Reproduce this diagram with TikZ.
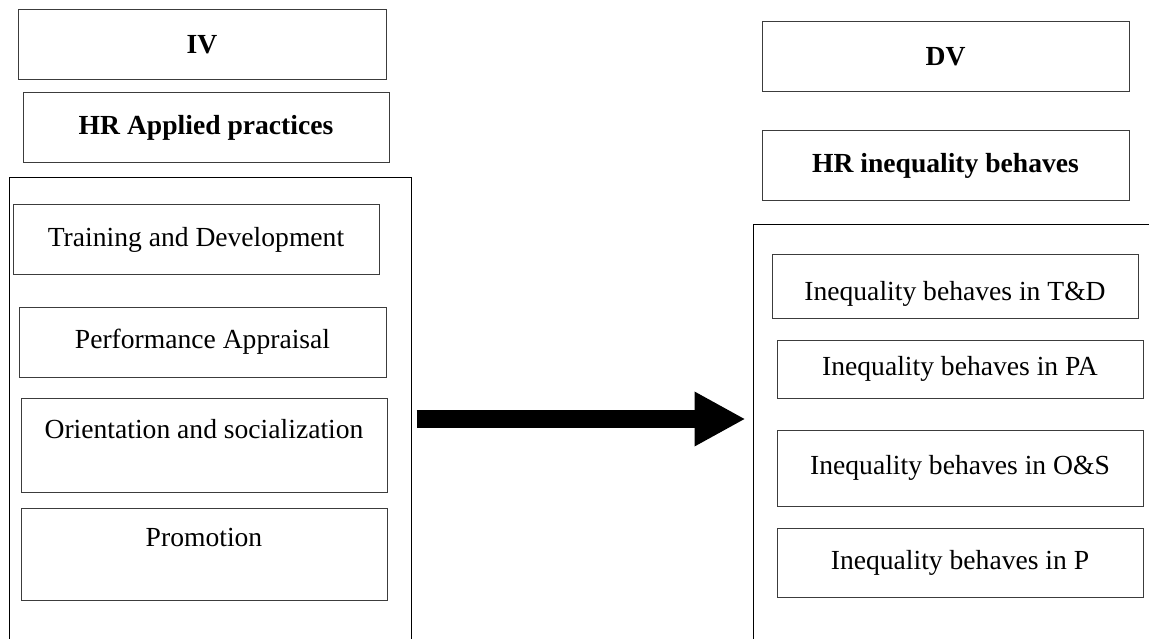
\documentclass[tikz,border=0pt]{standalone}
\usepackage{fontspec}
\setmainfont{Liberation Serif}
\usetikzlibrary{arrows.meta, positioning, calc}
\definecolor{boxline}{RGB}{60, 60, 60}
\tikzset{
  hrbox/.style     = {rectangle, draw=boxline, line width=1pt, inner sep=0pt, align=center, font=\fontsize{27.6}{33}\selectfont},
  hrhead/.style    = {hrbox, font=\fontsize{27.6}{33}\selectfont\bfseries},
  hrframe/.style   = {rectangle, draw=black, line width=1pt, inner sep=0pt},
  fatarrow/.style  = {-{Triangle[length=51pt, width=51pt]}, line width=18pt, black},
}
\begin{document}
\begin{tikzpicture}[x=1pt, y=-1pt]
  \useasboundingbox (0,0) rectangle (1149,639);
  \clip (0,0) rectangle (1149,639);

  % independent side
  \node[hrframe, minimum width=401.5pt, minimum height=482pt] (lcont) at (210.25,419) {};
  \node[hrhead, minimum width=368pt, minimum height=70pt] (iv)   at (202,45)  {IV};
  \node[hrhead, minimum width=366pt, minimum height=70pt] (hrap) at (206,128) {HR Applied practices};
  \node[hrbox, minimum width=366pt, minimum height=70pt] (td)   at (196,240)   {Training and Development};
  \node[hrbox, minimum width=367pt, minimum height=70pt] (pa)   at (202.5,342) {Performance Appraisal};
  \node[hrbox, minimum width=366pt, minimum height=94pt] (os)   at (204,445)   {Orientation and socialization\\~};
  \node[hrbox, minimum width=366pt, minimum height=92pt] (prom) at (204,554)   {Promotion\\~};

  % dependent side
  \node[hrframe, minimum width=412pt, minimum height=435pt] (rcont) at (959,442.5) {};
  \node[hrhead, minimum width=367pt, minimum height=70pt] (dv)   at (945.5,57)  {DV};
  \node[hrhead, minimum width=367pt, minimum height=70pt] (hrib) at (945.5,166) {HR inequality behaves};
  \node[hrbox, minimum width=366pt, minimum height=63pt, text height=34pt, text depth=6pt] (itd) at (955,286.5) {Inequality behaves in T\&D};
  \node[hrbox, minimum width=366pt, minimum height=58pt] (ipa) at (960,369)   {Inequality behaves in PA};
  \node[hrbox, minimum width=366pt, minimum height=76pt] (ios) at (960,468)   {Inequality behaves in O\&S};
  \node[hrbox, minimum width=366pt, minimum height=69pt] (ip)  at (960,562.5) {Inequality behaves in P};

  \draw[fatarrow, shorten <=5pt, shorten >=7pt] (lcont.east) -- (lcont.east -| rcont.west);
\end{tikzpicture}
\end{document}
